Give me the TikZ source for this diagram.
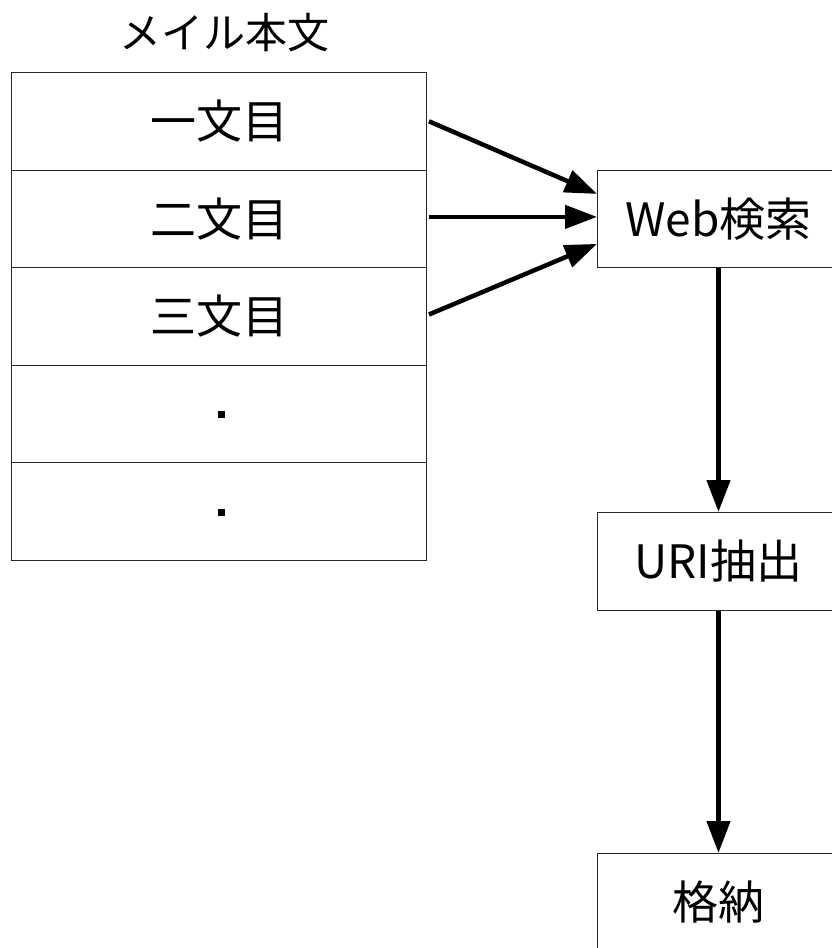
\documentclass[tikz,border=0pt]{standalone}
\usepackage{fontspec}
\setmainfont{Noto Sans CJK JP}
\usetikzlibrary{arrows.meta,calc}
\begin{document}
\begin{tikzpicture}[x=1pt,y=-1pt,
  boxtext/.style={font=\fontsize{46}{50}\selectfont},
  rowbox/.style={draw=black!85,line width=1pt,fill=white,minimum width=415pt,minimum height=97.6pt,inner sep=0pt,boxtext,anchor=north west},
  procbox/.style={draw=black!85,line width=1pt,fill=white,minimum width=242pt,minimum height=97.6pt,inner sep=0pt,boxtext,anchor=north west},
  dotmark/.style={fill=black,minimum size=7pt,inner sep=0pt},
  flow/.style={line width=4.5pt,-{Triangle[length=32pt,width=23pt]}}]
\useasboundingbox (0,0) rectangle (832,948);
\node[font=\fontsize{42}{46}\selectfont] (title) at (224,33) {メイル本文};
\node[rowbox] (r1) at (11,72) {一文目};
\node[rowbox] (r2) at (11,169.6) {二文目};
\node[rowbox] (r3) at (11,267.2) {三文目};
\node[rowbox] (r4) at (11,364.8) {};
\node[rowbox] (r5) at (11,462.4) {};
\node[dotmark] (d1) at (221.5,414.5) {};
\node[dotmark] (d2) at (221.5,512.5) {};
\node[procbox] (web) at (597,169.6) {Web検索};
\node[procbox] (uri) at (597,512) {URI抽出};
\node[procbox] (store) at (597,853) {格納};
\coordinate (s1) at ($(r1.east)+(2,0)$);
\coordinate (s2) at ($(r2.east)+(2,-2)$);
\coordinate (s3) at ($(r3.east)+(2,-2)$);
\coordinate (e1) at ($(web.west)+(0,-25)$);
\coordinate (e2) at ($(web.west)+(0,-2)$);
\coordinate (e3) at ($(web.west)+(0,25)$);
\draw[flow] (s1) -- (e1);
\draw[flow] (s2) -- (e2);
\draw[flow] (s3) -- (e3);
\draw[flow] (web.south) -- (uri.north);
\draw[flow] (uri.south) -- (store.north);
\end{tikzpicture}
\end{document}
